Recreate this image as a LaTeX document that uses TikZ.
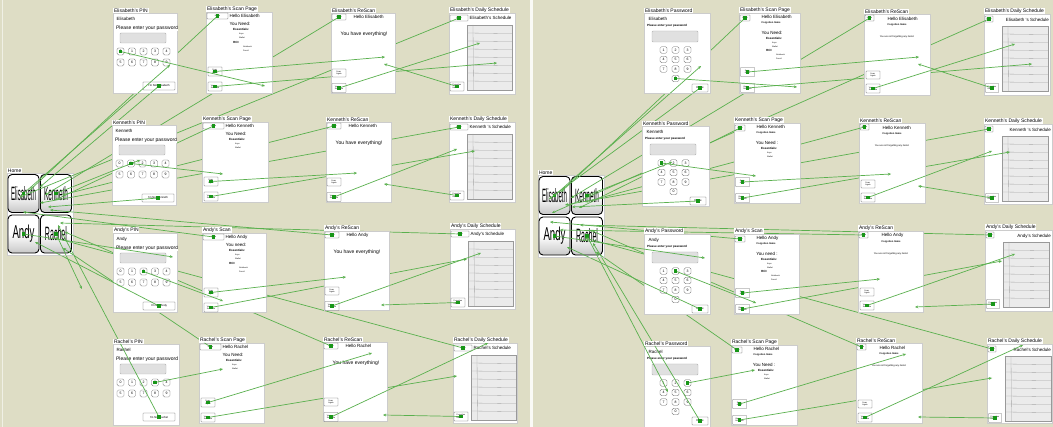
\documentclass[tikz,border=0pt]{standalone}
\usepackage{fontspec}
\setmainfont{Liberation Sans}
\usepackage{graphicx}
\usetikzlibrary{positioning}
\usetikzlibrary{arrows.meta}
\definecolor{paper}{RGB}{222,221,197}
\definecolor{linkgreen}{RGB}{90,176,78}
\definecolor{hotgreen}{RGB}{24,150,24}
\pgfdeclarelayer{bg}
\pgfsetlayers{bg,main}

\tikzset{
  screen/.style={draw=black!20, fill=white, anchor=north west, inner sep=0pt, line width=0.5pt},
  screentab/.style={fill=white, inner xsep=0.8pt, inner ysep=0.7pt, font=\fontsize{5}{6}\selectfont},
  txt/.style={anchor=west, inner sep=0.4pt, font=\fontsize{4.5}{5.5}\selectfont},
  subtxt/.style={anchor=west, inner sep=0pt, font=\fontsize{3}{3.5}\selectfont\bfseries},
  tinytxt/.style={anchor=west, inner sep=0pt, font=\fontsize{2}{2.4}\selectfont},
  btn/.style={draw=black!60, fill=white, rounded corners=0.5pt, inner sep=0.4pt, line width=0.35pt, align=left, font=\fontsize{2}{2.4}\selectfont},
  keybtn/.style={btn, minimum width=7pt, minimum height=7pt, rounded corners=1.5pt, align=center, font=\fontsize{3.5}{4}\selectfont},
  field/.style={draw=black!30, fill=black!12, rounded corners=1pt, line width=0.4pt},
  gridbox/.style={draw=black!40, fill=black!8, line width=0.4pt},
  gridline/.style={draw=black!35, line width=0.3pt},
  homebtn/.style={draw=black, line width=0.9pt, rounded corners=4pt, top color=white, bottom color=black!22, middle color=white, minimum width=31pt, minimum height=38pt, inner sep=0pt},
  linkline/.style={draw=linkgreen, line width=0.7pt, -{Stealth[length=3.2pt,width=2.8pt]}},
  hotspot/.style={fill=hotgreen, minimum size=3.4pt, inner sep=0pt},
}

% one mock-up screen: name, x, y, width, height, title
\newcommand{\screen}[6]{%
  \node[screen, minimum width=#4pt, minimum height=#5pt] (#1) at (#2,#3) {};
  \node[screentab, above right=0pt and 0pt of #1.north west] (#1-tab) {#6\hspace{2pt}};
}

\newcommand{\homescreen}[3]{%
  \screen{#1-h}{#2}{#3}{66}{82}{Home}
  \foreach \nm/\dx/\dy/\ww/\hh/\who in {e/16.5/20.5/25/14/Elisabeth, k/49/20.5/24/14/Kenneth, a/16.5/61/22/13.5/Andy, r/49/61/22/14/Rachel}
    \node[homebtn] (#1-h-\nm) at ([shift={(\dx,\dy)}]#1-h.north west) {\resizebox{\ww pt}{\hh pt}{\who}};
}

\newcommand{\pinL}[2]{%
  \node[txt] at ([shift={(3,6)}]#1.north west) {#2};
  \node[txt, fill=white, font=\fontsize{5}{6}\selectfont] at ([shift={(2.5,15)}]#1.north west) {Please enter your password};
  \draw[field] ([shift={(7,20)}]#1.north west) rectangle ([shift={(53,30)}]#1.north west);
  \foreach \k in {0,...,9}{
    \pgfmathtruncatemacro{\kc}{mod(\k,5)}
    \pgfmathtruncatemacro{\kr}{\k/5}
    \node[keybtn] (#1-k\k) at ([shift={(7.5+11.5*\kc,38.5+11*\kr)}]#1.north west) {\k};
  }
  \node[btn, minimum width=32pt, minimum height=8pt, align=center, font=\fontsize{2.8}{3}\selectfont] (#1-exit) at ([shift={(46,73)}]#1.north west) {I'm Not #2};
}

\newcommand{\pinR}[2]{%
  \node[txt] at ([shift={(4,6)}]#1.north west) {#2};
  \node[subtxt] at ([shift={(3,13)}]#1.north west) {Please enter your password};
  \draw[field] ([shift={(8,18)}]#1.north west) rectangle ([shift={(54,29)}]#1.north west);
  \foreach \k in {1,...,9}{
    \pgfmathtruncatemacro{\kc}{mod(\k-1,3)}
    \pgfmathtruncatemacro{\kr}{(\k-1)/3}
    \node[keybtn, minimum height=6.5pt] (#1-k\k) at ([shift={(19.5+12*\kc,37+9.5*\kr)}]#1.north west) {\k};
  }
  \node[keybtn, minimum height=6.5pt] (#1-k0) at ([shift={(31.5,65.5)}]#1.north west) {0};
  \node[btn, minimum width=16pt, minimum height=8pt, align=center, font=\fontsize{2.8}{3}\selectfont] (#1-exit) at ([shift={(56,75)}]#1.north west) {Home};
}

\newcommand{\needlist}[3]{%
  \node[subtxt] at ([shift={(#2,#3)}]#1.north west) {Essentials:};
  \node[tinytxt] at ([shift={(#2+6,#3+5)}]#1.north west) {Keys};
  \node[tinytxt] at ([shift={(#2+6,#3+9)}]#1.north west) {Wallet};
}
\newcommand{\hcilist}[3]{%
  \node[subtxt] at ([shift={(#2,#3)}]#1.north west) {HCI:};
  \node[tinytxt] at ([shift={(#2+10,#3+5)}]#1.north west) {Notebook};
  \node[tinytxt] at ([shift={(#2+10,#3+9)}]#1.north west) {Pencil};
}

\newcommand{\scanL}[4]{%
  \node[btn, minimum width=21pt, minimum height=6pt] (#1-home) at ([shift={(11.5,4)}]#1.north west) {Home};
  \node[txt] at ([shift={(23,4)}]#1.north west) {Hello #2};
  \node[txt, anchor=center] at ([shift={(34,12)}]#1.north west) {#3};
  \needlist{#1}{27}{17}
  \ifnum#4=1 \hcilist{#1}{27}{30}\fi
  \node[btn, minimum width=14pt, minimum height=9pt] (#1-again) at ([shift={(9,59.5)}]#1.north west) {Scan\\Again};
  \node[btn, minimum width=14pt, minimum height=9pt] (#1-view) at ([shift={(9,74.5)}]#1.north west) {View\\Schedule};
}
\newcommand{\scanR}[4]{%
  \node[btn, minimum width=10pt, minimum height=6pt] (#1-home) at ([shift={(6,5)}]#1.north west) {Home};
  \node[txt] at ([shift={(22,4)}]#1.north west) {Hello #2};
  \node[subtxt, font=\fontsize{2.5}{3}\selectfont\bfseries] at ([shift={(22.5,10)}]#1.north west) {Forgotten Items};
  \node[txt, anchor=center] at ([shift={(33,20)}]#1.north west) {#3};
  \needlist{#1}{27}{25}
  \ifnum#4=1 \hcilist{#1}{27}{37}\fi
  \node[btn, minimum width=14pt, minimum height=9pt] (#1-again) at ([shift={(8.5,59)}]#1.north west) {Scan\\Again};
  \node[btn, minimum width=14pt, minimum height=9pt] (#1-view) at ([shift={(8.5,75)}]#1.north west) {View\\Schedule};
}

\newcommand{\rescanL}[2]{%
  \node[btn, minimum width=14pt, minimum height=6pt] (#1-home) at ([shift={(8,4)}]#1.north west) {Home};
  \node[txt] at ([shift={(22,4)}]#1.north west) {Hello #2};
  \node[txt, anchor=center, fill=white, font=\fontsize{5}{6}\selectfont] at ([shift={(33,21)}]#1.north west) {You have everything!};
  \node[btn, minimum width=14pt, minimum height=8pt] (#1-again) at ([shift={(8,60)}]#1.north west) {Scan\\Again};
  \node[btn, minimum width=14pt, minimum height=9pt] (#1-view) at ([shift={(8,75)}]#1.north west) {View\\Schedule};
}
\newcommand{\rescanR}[2]{%
  \node[btn, minimum width=9pt, minimum height=6pt] (#1-home) at ([shift={(5.5,4)}]#1.north west) {Home};
  \node[txt] at ([shift={(23,4.5)}]#1.north west) {Hello #2};
  \node[subtxt, font=\fontsize{2.5}{3}\selectfont\bfseries] at ([shift={(23.5,10.5)}]#1.north west) {Forgotten Items};
  \node[tinytxt, anchor=center, font=\fontsize{2.4}{3}\selectfont] at ([shift={(33,23)}]#1.north west) {You are not forgetting any items!};
  \node[btn, minimum width=14pt, minimum height=8pt] (#1-again) at ([shift={(9,61)}]#1.north west) {Scan\\Again};
  \node[btn, minimum width=14pt, minimum height=9pt] (#1-view) at ([shift={(9,74.5)}]#1.north west) {View\\Schedule};
}

% schedule sheet: screen, right end of the sheet
\newcommand{\schedgrid}[2]{%
  \draw[gridbox] ([shift={(18,12)}]#1.north west) rectangle ([shift={(#2,77)}]#1.north west);
  \foreach \gy in {20,28,...,72}
    \draw[gridline] ([shift={(18,\gy)}]#1.north west) -- ([shift={(#2,\gy+0.6)}]#1.north west);
  \draw[gridline] ([shift={(24,12)}]#1.north west) -- ([shift={(24.5,77)}]#1.north west);
}
\newcommand{\dailyL}[2]{%
  \node[btn, minimum width=18pt, minimum height=6pt] (#1-home) at ([shift={(10,5)}]#1.north west) {Home};
  \node[txt] at ([shift={(20,5)}]#1.north west) {#2};
  \schedgrid{#1}{63}
  \node[btn, minimum width=14pt, minimum height=9pt] (#1-forgot) at ([shift={(8,73.5)}]#1.north west) {Forgotten\\Items};
}
\newcommand{\dailyR}[2]{%
  \node[btn, minimum width=8pt, minimum height=6pt] (#1-home) at ([shift={(5,5)}]#1.north west) {Home};
  \node[txt, anchor=east] at ([shift={(-1,6)}]#1.north east) {#2};
  \schedgrid{#1}{64}
  \node[btn, minimum width=13pt, minimum height=9pt] (#1-forgot) at ([shift={(8,74)}]#1.north west) {Forgotten\\Items};
}

% link: panel, source screen, source item, target screen, target point
\newcommand{\flowlink}[5]{%
  \begin{pgfonlayer}{bg}
    \draw[linkline] (#1-#2-#3.center) -- (#1-#4-#5);
  \end{pgfonlayer}
  \begin{scope}
    \clip (#1-#2.north west) rectangle (#1-#2.south east)
          (#1-#4.north west) rectangle (#1-#4.south east);
    \draw[linkline] (#1-#2-#3.center) -- (#1-#4-#5);
  \end{scope}
  \node[hotspot] at (#1-#2-#3.center) {};
}

\begin{document}
\begin{tikzpicture}[x=1pt, y=-1pt]
  \useasboundingbox (0,0) rectangle (1053,427);
  \begin{pgfonlayer}{bg}
    \fill[paper] (0,0) rectangle (1053,427);
    \fill[white!85!paper] (529.5,0) rectangle (532.5,427);
    \fill[white!55!paper] (1.5,0) rectangle (3,427);
  \end{pgfonlayer}

  % first version
  \homescreen{L}{7}{173}
  \screen{L-Pe}{113}{13}{64}{80}{Elisabeth's PIN}\pinL{L-Pe}{Elisabeth}
  \screen{L-Se}{206}{12}{66}{81}{Elisabeth's Scan Page}\scanL{L-Se}{Elisabeth}{You Need:}{1}
  \screen{L-Re}{331}{13}{64}{80}{Elisabeth's ReScan}\rescanL{L-Re}{Elisabeth}
  \screen{L-De}{449}{13}{66}{81}{Elisabeth's Daily Schedule}\dailyL{L-De}{Elisabeth's Schedule}
  \screen{L-Pk}{112}{125}{64}{80}{Kenneth's PIN}\pinL{L-Pk}{Kenneth}
  \screen{L-Sk}{202}{122}{66}{80}{Kenneth's Scan Page}\scanL{L-Sk}{Kenneth}{You Need:}{0}
  \screen{L-Rk}{326}{122}{65}{80}{Kenneth's ReScan}\rescanL{L-Rk}{Kenneth}
  \screen{L-Dk}{449}{122}{66}{80}{Kenneth's Daily Schedule}\dailyL{L-Dk}{Kenneth 's Schedule}
  \screen{L-Pa}{113}{233}{64}{79}{Andy's PIN}\pinL{L-Pa}{Andy}
  \screen{L-Sa}{202}{233}{64}{79}{Andy's Scan}\scanL{L-Sa}{Andy}{You need:}{1}
  \screen{L-Ra}{324}{231}{65}{79}{Andy's ReScan}\rescanL{L-Ra}{Andy}
  \screen{L-Da}{450}{229}{65}{80}{Andy's Daily Schedule}\dailyL{L-Da}{Andy's Schedule}
  \screen{L-Pr}{113}{344}{66}{81}{Rachel's PIN}\pinL{L-Pr}{Rachel}
  \screen{L-Sr}{199}{343}{65}{80}{Rachel's Scan Page}\scanL{L-Sr}{Rachel}{You Need:}{0}
  \screen{L-Rr}{323}{342}{64}{79}{Rachel's ReScan}\rescanL{L-Rr}{Rachel}
  \screen{L-Dr}{453}{343}{64}{80}{Rachel's Daily Schedule}\dailyL{L-Dr}{Rachel's Schedule}

  % second version
  \homescreen{R}{538}{175}
  \screen{R-Pe}{644}{13}{66}{80}{Elisabeth's Password}\pinR{R-Pe}{Elisabeth}
  \screen{R-Se}{739}{13}{61}{80}{Elisabeth's Scan Page}\scanR{R-Se}{Elisabeth}{You Need:}{1}
  \screen{R-Re}{864}{14}{66}{81}{Elisabeth's ReScan}\rescanR{R-Re}{Elisabeth}
  \screen{R-De}{984}{14}{66}{81}{Elisabeth's Daily Schedule}\dailyR{R-De}{Elisabeth 's Schedule}
  \screen{R-Pk}{642}{126}{67}{80}{Kenneth's Password}\pinR{R-Pk}{Kenneth}
  \screen{R-Sk}{734}{123}{66}{80}{Kenneth's Scan Page}\scanR{R-Sk}{Kenneth}{You Need :}{0}
  \screen{R-Rk}{859}{123}{66}{80}{Kenneth's ReScan}\rescanR{R-Rk}{Kenneth}
  \screen{R-Dk}{984}{124}{68}{80}{Kenneth's Daily Schedule}\dailyR{R-Dk}{Kenneth 's Schedule}
  \screen{R-Pa}{644}{234}{66}{80}{Andy's Password}\pinR{R-Pa}{Andy}
  \screen{R-Sa}{734}{234}{65}{80}{Andy's Scan}\scanR{R-Sa}{Andy}{You need :}{1}
  \screen{R-Ra}{858}{231}{65}{81}{Andy's ReScan}\rescanR{R-Ra}{Andy}
  \screen{R-Da}{985}{230}{67}{81}{Andy's Daily Schedule}\dailyR{R-Da}{Andy's Schedule}
  \screen{R-Pr}{644}{346}{66}{81}{Rachel's Password}\pinR{R-Pr}{Rachel}
  \screen{R-Sr}{731}{345}{66}{80}{Rachel's Scan Page}\scanR{R-Sr}{Rachel}{You Need :}{0}
  \screen{R-Rr}{856}{343}{66}{80}{Rachel's ReScan}\rescanR{R-Rr}{Rachel}
  \screen{R-Dr}{987}{344}{65}{79}{Rachel's Daily Schedule}\dailyR{R-Dr}{Rachel's Schedule}

  % where the links land
  \foreach \nm/\cx/\cy in {Pe-t/170/65, Se-t/265/86, Re-t1/385/57, Re-t2/384/64, De-t1/497/63, De-t2/480/43,
      Pk-t/140/160, Sk-t/223/174, Rk-t1/357/173, Rk-t2/384/184, Dk-t1/475/151, Dk-t2/457/149,
      Pa-t/173/257, Sa-t/223/301, Ra-t1/346/277, Ra-t2/381/305, Da-t1/467/259, Da-t2/481/253,
      Pr-t/82/289, Sr-t/223/369, Rr-t1/372/353, Rr-t2/383/415, Dr-t1/457/376, Dr-t2/488/343,
      h-e1/40/187, h-e2/30/190, h-e3/45/195, h-e4/20/197, h-k1/48/207, h-k2/55/200, h-k3/62/195, h-k4/40/203,
      h-a1/35/242, h-a2/23/212, h-a3/50/210, h-a4/60/223, h-r1/58/225, h-r2/63/248, h-r3/65/232, h-r4/55/238}
    \coordinate (L-\nm) at (\cx,\cy);
  \foreach \nm/\cx/\cy in {Pe-t/701/66, Se-t/797/87, Re-t1/919/57, Re-t2/918/64, De-t1/1032/64, De-t2/1015/44,
      Pk-t/672/162, Sk-t/756/176, Rk-t1/891/174, Rk-t2/918/186, Dk-t1/1010/152, Dk-t2/992/151,
      Pa-t/705/258, Sa-t/756/303, Ra-t1/880/279, Ra-t2/915/307, Da-t1/1002/261, Da-t2/1015/254,
      Pr-t/668/392, Sr-t/755/370, Rr-t1/906/354, Rr-t2/918/417, Dr-t1/992/378, Dr-t2/1023/345,
      h-e1/549/199, h-e2/561/192, h-e3/571/198, h-e4/552/213, h-k1/572/207, h-k2/579/208, h-k3/585/202, h-k4/565/205,
      h-a1/567/247, h-a2/550/222, h-a3/560/230, h-a4/580/225, h-r1/593/243, h-r2/596/252, h-r3/590/230, h-r4/585/238}
    \coordinate (R-\nm) at (\cx,\cy);

  % the links, same flow in both versions
  \foreach \p in {L,R}
    \foreach \x/\ok in {e/0,k/1,a/2,r/3}{
      \flowlink{\p}{h}{\x}{P\x}{t}
      \flowlink{\p}{P\x}{k\ok}{S\x}{t}
      \flowlink{\p}{P\x}{exit}{h}{\x1}
      \flowlink{\p}{S\x}{home}{h}{\x2}
      \flowlink{\p}{S\x}{again}{R\x}{t1}
      \flowlink{\p}{S\x}{view}{D\x}{t1}
      \flowlink{\p}{R\x}{home}{h}{\x3}
      \flowlink{\p}{R\x}{view}{D\x}{t2}
      \flowlink{\p}{D\x}{forgot}{R\x}{t2}
      \flowlink{\p}{D\x}{home}{h}{\x4}
    }
\end{tikzpicture}
\end{document}
